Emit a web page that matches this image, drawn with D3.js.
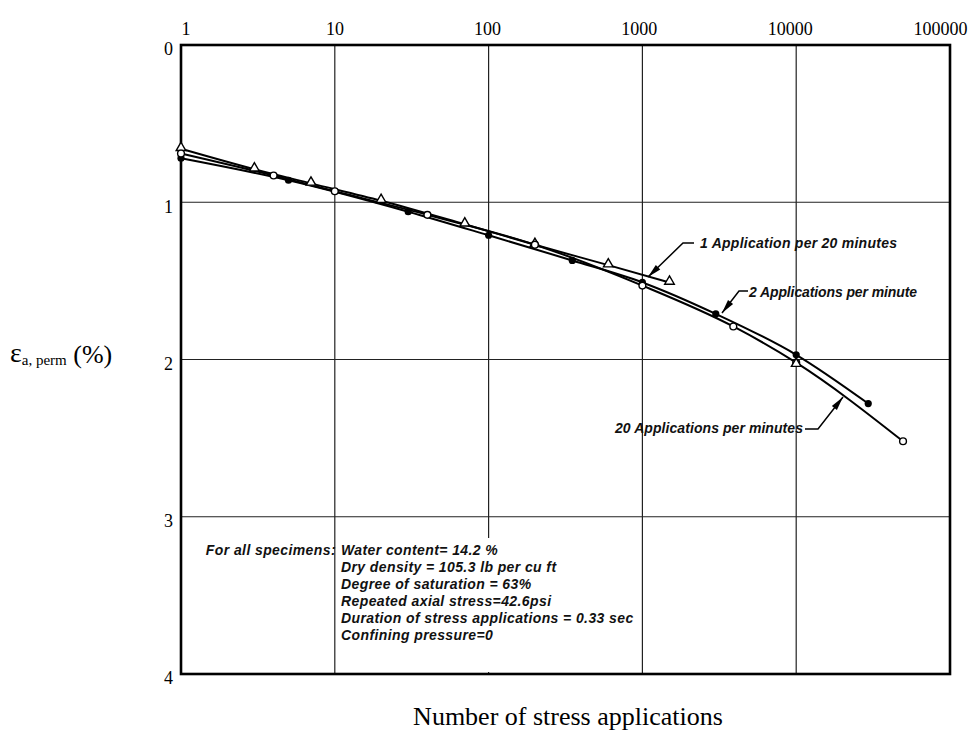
<!DOCTYPE html>
<html>
<head>
<meta charset="utf-8">
<script src="https://cdn.jsdelivr.net/npm/d3@7"></script>
<style>
  html, body { margin: 0; padding: 0; background: #fff; }
  svg { display: block; }
  .note { font-family: "Liberation Sans", Arial, sans-serif; font-style: italic; font-weight: bold; font-size: 14px; fill: #111; }
</style>
</head>
<body>
<svg id="chart" width="976" height="731"></svg>
<script>
// Number of stress applications (log axis) and tick labels
const xTicks = [1, 10, 100, 1000, 10000, 100000];
const yTicks = [0, 1, 2, 3, 4];

// 1 application per 20 minutes (open triangles)
const slowN = [1, 3, 7, 20, 70, 200, 600, 1500];
const slowE = [0.66, 0.79, 0.88, 0.99, 1.14, 1.27, 1.40, 1.51];

// 2 applications per minute (filled circles)
const midN = [1, 5, 30, 100, 350, 1000, 3000, 10000, 29400];
const midE = [0.72, 0.86, 1.06, 1.21, 1.37, 1.51, 1.71, 1.97, 2.28];

// 20 applications per minute (open circles)
const fastN = [1, 4, 10, 40, 200, 1000, 3900, 10000, 49500];
const fastE = [0.69, 0.83, 0.93, 1.08, 1.27, 1.53, 1.79, 2.02, 2.52];

// single triangle reading at 10^4 cycles
const loneN = [10000];
const loneE = [2.02];

// curve labels
const curveLabels = ["1 Application per 20 minutes", "2 Applications per minute", "20 Applications per minutes"];

// specimen notes
const noteHead = "For all specimens:";
const noteLines = [
  "Water content= 14.2 %",
  "Dry  density = 105.3 lb per cu ft",
  "Degree of saturation  = 63%",
  "Repeated axial stress=42.6psi",
  "Duration of stress applications = 0.33 sec",
  "Confining pressure=0"
];

const svg = d3.select("#chart");
const pL = 181, pR = 950, pT = 45, pB = 674;

const x = d3.scaleLog().domain([1, 100000]).range([pL, pR]);
const y = d3.scaleLinear().domain([0, 4]).range([pT, pB]);

// grid
const grid = svg.append("g").attr("stroke", "#222").attr("stroke-width", 1.2);
grid.selectAll("line.v").data(xTicks.slice(1, -1)).join("line").attr("class", "v")
  .attr("x1", d => x(d)).attr("x2", d => x(d))
  .attr("y1", pT).attr("y2", pB);
grid.selectAll("line.h").data(yTicks.slice(1, -1)).join("line").attr("class", "h")
  .attr("x1", pL).attr("x2", pR)
  .attr("y1", d => y(d)).attr("y2", d => y(d));

// white backing behind the specimen notes
svg.append("rect").attr("x", 339).attr("y", 538).attr("width", 250).attr("height", 134).attr("fill", "#fff");

// frame
svg.append("rect").attr("x", pL).attr("y", pT).attr("width", pR - pL).attr("height", pB - pT)
  .attr("fill", "none").attr("stroke", "#000").attr("stroke-width", 2.6);

// top axis labels
const axTop = svg.append("g").attr("transform", `translate(0,${pT - 10})`)
  .call(d3.axisTop(x).tickValues(xTicks).tickFormat(d3.format("d")).tickSize(0).tickPadding(0));
axTop.select(".domain").remove();
axTop.selectAll("text")
  .attr("font-family", "'Liberation Serif', 'Times New Roman', serif")
  .attr("font-size", 18).attr("fill", "#000")
  .attr("text-anchor", (d, i) => i === 0 ? "start" : "middle")
  .attr("dx", (d, i) => i === 0 ? 0 : -(i * i) * 0.4);

// left axis labels
const axLeft = svg.append("g").attr("transform", `translate(${pL - 8},0)`)
  .call(d3.axisLeft(y).tickValues(yTicks).tickFormat(d3.format("d")).tickSize(0).tickPadding(0));
axLeft.select(".domain").remove();
axLeft.selectAll("text")
  .attr("font-family", "'Liberation Serif', 'Times New Roman', serif")
  .attr("font-size", 18).attr("fill", "#000")
  .attr("dy", "0.55em");

// curves
const pts = (N, E) => N.map((n, i) => [x(n), y(E[i])]);
const line = d3.line().curve(d3.curveMonotoneX);
const series = [
  { N: slowN, E: slowE, marker: "tri" },
  { N: midN, E: midE, marker: "dot" },
  { N: fastN, E: fastE, marker: "ring" }
];
const curves = svg.append("g").attr("fill", "none").attr("stroke", "#000").attr("stroke-width", 2);
series.forEach(s => curves.append("path").attr("d", line(pts(s.N, s.E))));

// markers
const mk = svg.append("g");
function drawMarker(type, px, py) {
  if (type === "tri") {
    mk.append("path").attr("d", d3.symbol(d3.symbolTriangle, 40)())
      .attr("transform", `translate(${px},${py - 1})`)
      .attr("fill", "#fff").attr("stroke", "#000").attr("stroke-width", 1.4);
  } else if (type === "dot") {
    mk.append("circle").attr("cx", px).attr("cy", py).attr("r", 3.6).attr("fill", "#000");
  } else {
    mk.append("circle").attr("cx", px).attr("cy", py).attr("r", 3.4)
      .attr("fill", "#fff").attr("stroke", "#000").attr("stroke-width", 1.4);
  }
}
series.forEach(s => pts(s.N, s.E).forEach(p => drawMarker(s.marker, p[0], p[1])));
pts(loneN, loneE).forEach(p => drawMarker("tri", p[0], p[1] + 2));

// leader arrows
const leaders = svg.append("g");
function arrow(pathPts, tip, from) {
  leaders.append("path").attr("d", d3.line()(pathPts))
    .attr("fill", "none").attr("stroke", "#000").attr("stroke-width", 1.5);
  const ang = Math.atan2(tip[1] - from[1], tip[0] - from[0]);
  const L = 14, W = 3.2;
  const bx = tip[0] - L * Math.cos(ang), by = tip[1] - L * Math.sin(ang);
  const nx = -Math.sin(ang) * W, ny = Math.cos(ang) * W;
  leaders.append("path")
    .attr("d", `M${tip[0]},${tip[1]}L${bx + nx},${by + ny}L${bx - nx},${by - ny}Z`)
    .attr("fill", "#000");
}
arrow([[694, 243], [683, 243], [648, 277]], [648, 277], [683, 243]);
arrow([[748, 291], [739, 291], [722, 313]], [722, 313], [739, 291]);
arrow([[805, 429], [818, 429], [843, 397]], [843, 397], [818, 429]);

svg.append("text").attr("class", "note").attr("x", 700).attr("y", 248)
  .attr("textLength", 197).attr("lengthAdjust", "spacing").text(curveLabels[0]);
svg.append("text").attr("class", "note").attr("x", 749).attr("y", 297)
  .attr("textLength", 168).attr("lengthAdjust", "spacing").text(curveLabels[1]);
svg.append("text").attr("class", "note").attr("x", 615).attr("y", 433)
  .attr("textLength", 188).attr("lengthAdjust", "spacing").text(curveLabels[2]);

// specimen notes
svg.append("text").attr("class", "note").attr("x", 336).attr("y", 555).attr("text-anchor", "end")
  .attr("letter-spacing", 0.4).text(noteHead);
svg.append("g").selectAll("text").data(noteLines).join("text")
  .attr("class", "note").attr("x", 341).attr("y", (d, i) => 555 + i * 17)
  .attr("letter-spacing", 0.4).text(d => d);

// axis titles
const yTitle = svg.append("text").attr("x", 10).attr("y", 362)
  .attr("font-family", "'Liberation Serif', 'Times New Roman', serif").attr("fill", "#000");
yTitle.append("tspan").attr("font-size", 28).text("ε");
yTitle.append("tspan").attr("font-size", 15).attr("dy", 3).text("a, perm");
yTitle.append("tspan").attr("font-size", 26).attr("dy", -2).text(" (%)");

svg.append("text").attr("x", 568).attr("y", 725).attr("text-anchor", "middle")
  .attr("font-family", "'Liberation Serif', 'Times New Roman', serif")
  .attr("font-size", 26).attr("fill", "#000")
  .text("Number of stress applications");
</script>
</body>
</html>
